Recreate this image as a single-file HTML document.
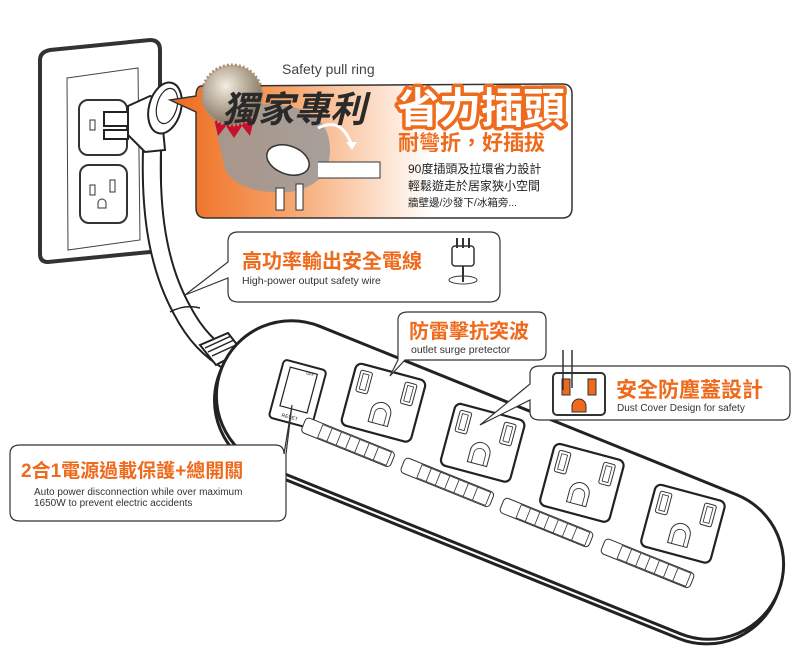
<!DOCTYPE html>
<html><head><meta charset="utf-8"><style>
html,body{margin:0;padding:0;background:#fff}
svg{display:block}
text{font-family:"Liberation Sans","Noto Sans CJK TC",sans-serif}
</style></head><body>
<svg width="800" height="652" viewBox="0 0 800 652" xmlns="http://www.w3.org/2000/svg">
<defs>
<linearGradient id="og" x1="0" y1="0" x2="1" y2="0">
<stop offset="0" stop-color="#ee6a1c"/><stop offset="0.25" stop-color="#f59a5c"/><stop offset="0.55" stop-color="#fde6d6"/><stop offset="0.65" stop-color="#fff"/>
</linearGradient>
<radialGradient id="seal" cx="0.4" cy="0.35" r="0.7"><stop offset="0" stop-color="#f4ede0"/><stop offset="1" stop-color="#7a6a55"/></radialGradient>
<g id="outlet">
<rect x="-36" y="-32" width="72" height="64" rx="6" fill="#fff" stroke="#222" stroke-width="2.2"/>
<rect x="-30" y="-26" width="12" height="22" rx="2" fill="none" stroke="#333" stroke-width="1"/>
<rect x="-27" y="-23" width="6" height="16" fill="none" stroke="#333" stroke-width="0.8"/>
<rect x="16" y="-26" width="12" height="22" rx="2" fill="none" stroke="#333" stroke-width="1"/>
<rect x="19" y="-23" width="6" height="16" fill="none" stroke="#333" stroke-width="0.8"/>
<path d="M-10 22 V10 a10 10 0 0 1 20 0 V22 Z" fill="none" stroke="#333" stroke-width="1"/>
<path d="M-6 22 V12 a6 6 0 0 1 12 0 V22" fill="none" stroke="#333" stroke-width="0.8"/>
</g>
<g id="slider">
<rect x="-48" y="0" width="96" height="16" rx="4" fill="#fff" stroke="#333" stroke-width="1"/>
<rect x="-30" y="1" width="74" height="14" fill="none" stroke="#333" stroke-width="0.8"/>
<path d="M-20 1v14M-10 1v14M0 1v14M10 1v14M20 1v14M30 1v14" stroke="#333" stroke-width="0.8"/>
</g>
</defs>

<!-- wall plate -->
<path d="M40 60 Q40 52 50 50 L150 40 Q160 40 160 50 L160 240 Q160 250 150 252 L48 262 Q40 262 40 254 Z" fill="#fff" stroke="#333" stroke-width="4"/>
<path d="M67 78 L138 68 L140 240 L68 250 Z" fill="none" stroke="#444" stroke-width="1"/>
<rect x="79" y="100" width="48" height="55" rx="9" fill="#fff" stroke="#333" stroke-width="2"/>
<rect x="80" y="165" width="47" height="58" rx="9" fill="#fff" stroke="#333" stroke-width="2"/>
<rect x="90" y="185" width="5" height="10" fill="none" stroke="#333"/><rect x="110" y="180" width="5" height="12" fill="none" stroke="#333"/>
<path d="M98 208 v-5 a4 4 0 0 1 8 0 v5z" fill="none" stroke="#333"/>
<rect x="90" y="120" width="5" height="10" fill="none" stroke="#333"/>

<!-- cable -->
<path d="M152 150 C150 220 160 270 182 310 C195 335 210 350 230 362" fill="none" stroke="#222" stroke-width="20"/>
<path d="M152 150 C150 220 160 270 182 310 C195 335 210 350 230 362" fill="none" stroke="#fff" stroke-width="16"/>
<path d="M170 312 q15 -8 30 -4" fill="none" stroke="#222" stroke-width="1.5"/>
<path d="M200 345 l28 -12 l14 18 l-26 14 z" fill="#fff" stroke="#222" stroke-width="2"/>
<path d="M205 348 l26 -12 M208 352 l26 -12 M212 356 l26 -12" stroke="#222" stroke-width="1.5"/>
<!-- plug -->
<rect x="104" y="112" width="24" height="14" fill="#fff" stroke="#222" stroke-width="2"/>
<rect x="104" y="130" width="24" height="9" fill="#fff" stroke="#222" stroke-width="2"/>
<path d="M128 106 L150 96 L160 98 L165 150 L145 152 L128 135 Z" fill="#fff" stroke="#222" stroke-width="2"/>
<ellipse cx="165" cy="108" rx="16" ry="26" transform="rotate(15 165 108)" fill="#fff" stroke="#222" stroke-width="2"/>
<ellipse cx="167" cy="106" rx="10" ry="18" transform="rotate(15 167 106)" fill="none" stroke="#222" stroke-width="1.2"/>

<!-- power strip -->
<g transform="rotate(22 500 480)">
<rect x="200" y="410" width="600" height="150" rx="75" fill="#fff" stroke="#222" stroke-width="3"/>
<rect x="200" y="405" width="600" height="150" rx="75" fill="#fff" stroke="#222" stroke-width="3"/>
<g transform="rotate(-7 280 475)">
<rect x="258" y="446" width="44" height="60" rx="4" fill="#fff" stroke="#222" stroke-width="2"/>
<rect x="266" y="452" width="28" height="40" fill="none" stroke="#222" stroke-width="1.2"/>
<text x="270" y="502" font-size="5" fill="#222">RESET</text>
<text x="283" y="455" font-size="4" fill="#222">OFF</text>
</g>
<use href="#outlet" transform="translate(363 452) rotate(-7)"/><use href="#slider" x="345" y="494"/>
<use href="#outlet" transform="translate(470 452) rotate(-7)"/><use href="#slider" x="452" y="494"/>
<use href="#outlet" transform="translate(577 452) rotate(-7)"/><use href="#slider" x="559" y="494"/>
<use href="#outlet" transform="translate(686 452) rotate(-7)"/><use href="#slider" x="668" y="494"/>
</g>

<!-- orange callout -->
<path d="M202 86 L562 84 Q572 84 572 94 L572 208 Q572 218 562 218 L206 218 Q196 218 196 208 L196 112 L170 100 L196 96 Q196 86 202 86 Z" fill="url(#og)" stroke="#333" stroke-width="1.5"/>
<path d="M215 125 Q230 100 280 105 Q330 110 330 150 Q330 185 290 192 Q240 195 225 170 Z" fill="#9a9a9a" opacity="0.85"/>
<path d="M318 128 q24 -12 34 18" fill="none" stroke="#fff" stroke-width="3"/>
<path d="M346 142 l6 8 l5 -8z" fill="#fff"/>
<path d="M318 162 H380 V178 H318" fill="#fff" stroke="#333" stroke-width="1"/>
<ellipse cx="288" cy="160" rx="22" ry="14" fill="#fff" stroke="#333" stroke-width="1.5" transform="rotate(20 288 160)"/>
<rect x="276" y="188" width="8" height="22" fill="#fff" stroke="#333"/><rect x="296" y="184" width="7" height="26" fill="#fff" stroke="#333"/>
<!-- seal -->
<path d="M212 110 l6 26 l8 -10 l8 12 l8 -12 l8 10 l6 -26 z" fill="#c8102e"/>
<circle cx="232" cy="95" r="30" fill="url(#seal)" stroke="#b09070" stroke-width="3" stroke-dasharray="2 2"/>
<text x="222" y="122" font-size="36" font-weight="bold" font-style="italic" fill="#2a2a2a">獨家專利</text>
<text x="282" y="74" font-size="14" fill="#444">Safety pull ring</text>
<text x="397" y="123" font-size="42" font-weight="bold" fill="#fff" stroke="#ee6a1c" stroke-width="7" stroke-linejoin="round" paint-order="stroke">省力插頭</text>
<text x="398" y="150" font-size="21" font-weight="bold" fill="#ee6a1c">耐彎折，好插拔</text>
<text x="408" y="173" font-size="12" fill="#222">90度插頭及拉環省力設計</text>
<text x="408" y="190" font-size="12" fill="#222">輕鬆遊走於居家狹小空間</text>
<text x="408" y="206" font-size="10.5" fill="#222">牆壁邊/沙發下/冰箱旁...</text>

<!-- wire callout -->
<path d="M238 232 H490 Q500 232 500 242 V292 Q500 302 490 302 H238 Q228 302 228 292 V278 L185 295 L228 262 V242 Q228 232 238 232 Z" fill="#fff" stroke="#333" stroke-width="1.2"/>
<text x="242" y="268" font-size="20" font-weight="bold" fill="#ee6a1c">高功率輸出安全電線</text>
<text x="242" y="284" font-size="10.5" fill="#333">High-power output safety wire</text>
<rect x="452" y="246" width="22" height="20" rx="3" fill="#fff" stroke="#333" stroke-width="1.5"/>
<path d="M457 238v10M463 238v10M469 238v10M463 266v16" stroke="#333" stroke-width="2"/>
<ellipse cx="463" cy="280" rx="14" ry="4" fill="none" stroke="#333"/>

<!-- surge callout -->
<path d="M408 312 H538 Q546 312 546 320 V352 Q546 360 538 360 H405 L390 376 L398 360 Q398 360 398 352 V320 Q398 312 408 312 Z" fill="#fff" stroke="#333" stroke-width="1.2"/>
<text x="409" y="338" font-size="20" font-weight="bold" fill="#ee6a1c">防雷擊抗突波</text>
<text x="411" y="353" font-size="10.5" fill="#333">outlet surge pretector</text>

<!-- dust cover callout -->
<path d="M540 366 H782 Q790 366 790 374 V412 Q790 420 782 420 H540 Q530 420 530 412 V400 L480 425 L530 384 V374 Q530 366 540 366 Z" fill="#fff" stroke="#333" stroke-width="1.2"/>
<rect x="553" y="373" width="52" height="42" rx="4" fill="#fff" stroke="#333" stroke-width="2"/>
<rect x="562" y="379" width="8" height="16" fill="#ee6a1c" stroke="#333"/><rect x="588" y="379" width="8" height="16" fill="#ee6a1c" stroke="#333"/>
<path d="M572 412 v-6 a7 7 0 0 1 14 0 v6z" fill="#ee6a1c" stroke="#333"/>
<path d="M563 350 V390 M572 350 V388" stroke="#333" stroke-width="1.5"/>
<text x="616" y="397" font-size="21" font-weight="bold" fill="#ee6a1c">安全防塵蓋設計</text>
<text x="617" y="411" font-size="10" fill="#333">Dust Cover Design for safety</text>

<!-- switch callout -->
<path d="M20 445 H275 Q284 445 284 454 L292 405 L286 454 V512 Q286 521 277 521 H20 Q10 521 10 512 V454 Q10 445 20 445 Z" fill="#fff" stroke="#333" stroke-width="1.2"/>
<text x="21" y="477" font-size="19" font-weight="bold" fill="#ee6a1c">2合1電源過載保護+總開關</text>
<text x="34" y="495" font-size="10" fill="#333">Auto power disconnection while over maximum</text>
<text x="34" y="506" font-size="10" fill="#333">1650W to prevent electric accidents</text>
</svg>
</body></html>
